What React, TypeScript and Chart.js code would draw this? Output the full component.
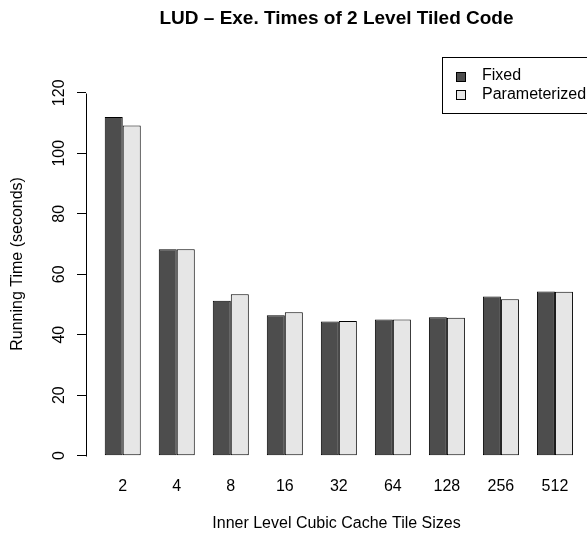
import React, { useEffect, useRef } from 'react';
import { Chart, registerables } from 'chart.js';

Chart.register(...registerables);

// ---- data ----
const categories = ['2', '4', '8', '16', '32', '64', '128', '256', '512'];
const fixedTimes = [112.0, 68.3, 51.2, 46.4, 44.4, 45.0, 45.8, 52.6, 54.3];
const paramTimes = [109.2, 68.3, 53.4, 47.4, 44.5, 45.0, 45.6, 51.7, 54.2];
const yTickValues = [0, 20, 40, 60, 80, 100, 120];
const seriesNames = ['Fixed', 'Parameterized'];
const seriesColors = ['#4D4D4D', '#E6E6E6'];
const chartTitle = 'LUD – Exe. Times of 2 Level Tiled Code';
const xTitle = 'Inner Level Cubic Cache Tile Sizes';
const yTitle = 'Running Time (seconds)';

// barplot(beside=TRUE) coordinates: each group = 2 bars of width 1 + 1 space
const groupCenter = (i: number) => 3 * i + 2;

const FONT = '"Liberation Sans", Arial, Helvetica, sans-serif';

const rDecorations = {
  id: 'rDecorations',
  afterDraw(chart: any) {
    const { ctx, chartArea, scales } = chart;
    const ys = scales.y;
    ctx.save();
    // y axis line spanning first to last tick (R style)
    const ax = Math.round(ys.right) + 0.5;
    ctx.strokeStyle = '#000';
    ctx.lineWidth = 1;
    ctx.beginPath();
    ctx.moveTo(ax, Math.round(ys.getPixelForValue(yTickValues[0])) + 0.5);
    ctx.lineTo(ax, Math.round(ys.getPixelForValue(yTickValues[yTickValues.length - 1])) + 0.5);
    ctx.stroke();

    // legend (topright of plot region)
    const boxW = 149;
    const boxH = 56;
    const right = chartArea.right + 4;
    const left = Math.round(right - boxW) + 0.5;
    const top = Math.round(chartArea.top) + 0.5;
    ctx.strokeRect(left, top, boxW, boxH);
    ctx.font = '16px ' + FONT;
    ctx.textBaseline = 'middle';
    ctx.textAlign = 'left';
    chart.data.datasets.forEach((ds: any, i: number) => {
      const cy = top + 18.5 + i * 18.5;
      const sx = Math.round(left + 13) + 0.5;
      const sy = Math.round(cy - 4.5) + 0.5;
      ctx.fillStyle = ds.backgroundColor;
      ctx.fillRect(sx, sy, 9, 9);
      ctx.strokeStyle = '#000';
      ctx.strokeRect(sx, sy, 9, 9);
      ctx.fillStyle = '#000';
      ctx.fillText(ds.label, left + 39.5, cy);
    });
    ctx.restore();
  },
};

export default function App() {
  const ref = useRef<HTMLCanvasElement | null>(null);

  useEffect(() => {
    if (!ref.current) return;
    Chart.defaults.font.family = FONT;
    Chart.defaults.color = '#000';
    const series = [fixedTimes, paramTimes];
    const chart = new Chart(ref.current, {
      type: 'bar',
      data: {
        datasets: series.map((vals, s) => ({
          label: seriesNames[s],
          data: vals.map((v, i) => ({ x: groupCenter(i), y: v })),
          backgroundColor: seriesColors[s],
          borderColor: '#000000',
          borderWidth: 1,
          borderSkipped: false,
          categoryPercentage: 2 / 3,
          barPercentage: 1,
        })),
      },
      options: {
        responsive: false,
        animation: false,
        devicePixelRatio: 1,
        layout: { padding: 0 },
        plugins: {
          legend: { display: false },
          tooltip: { enabled: false },
          title: {
            display: true,
            text: chartTitle,
            fullSize: false,
            color: '#000',
            font: { size: 19, weight: 'bold', family: FONT },
            padding: { top: 7, bottom: 27 },
          },
        },
        scales: {
          x: {
            type: 'linear',
            offset: false,
            min: -0.04,
            max: 27.78,
            grid: { display: false, drawTicks: false, offset: false },
            border: { display: false },
            afterBuildTicks: (s: any) => {
              s.ticks = categories.map((_, i) => ({ value: groupCenter(i) }));
            },
            afterFit: (s: any) => {
              s.height = 64;
            },
            ticks: {
              autoSkip: false,
              maxRotation: 0,
              padding: 6,
              color: '#000',
              font: { size: 16, family: FONT },
              callback: (_v: any, i: number) => categories[i],
            },
            title: {
              display: true,
              text: xTitle,
              color: '#000',
              font: { size: 16, family: FONT },
              padding: { top: 0, bottom: 2 },
            },
          },
          y: {
            type: 'linear',
            min: -5.07,
            max: 131.9,
            afterBuildTicks: (s: any) => {
              s.ticks = yTickValues.map((v) => ({ value: v }));
            },
            afterFit: (s: any) => {
              s.width = 86;
            },
            grid: {
              display: true,
              drawOnChartArea: false,
              drawTicks: true,
              tickLength: 9,
              color: '#000',
              lineWidth: 1,
            },
            border: { display: false },
            ticks: {
              minRotation: 90,
              maxRotation: 90,
              crossAlign: 'center',
              padding: 4,
              color: '#000',
              font: { size: 16, family: FONT },
              callback: (v: any) => String(v),
            },
            title: {
              display: true,
              text: yTitle,
              color: '#000',
              font: { size: 16, family: FONT },
              padding: { top: 8, bottom: 0 },
            },
          },
        },
      },
      plugins: [rDecorations],
    } as any);
    return () => chart.destroy();
  }, []);

  return (
    <div style={{ position: 'fixed', left: 0, top: 0, width: 587, height: 535, background: '#fff' }}>
      <canvas ref={ref} width={587} height={535} style={{ display: 'block' }} />
    </div>
  );
}
